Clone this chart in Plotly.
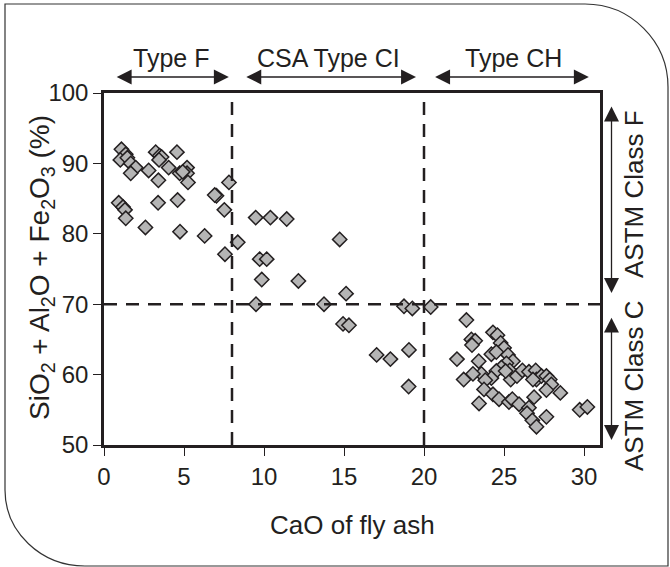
import plotly.graph_objects as go

# ---- data ----
cao = [1.09, 1.36, 1.02, 1.46, 1.67, 1.98, 1.67, 2.79, 3.23, 3.48, 3.6, 3.44, 4.56, 4.04, 3.4,
       4.73, 5.19, 5.19, 5.25, 4.92, 7.81, 7.03, 6.92, 7.52, 0.92, 1.19, 1.31, 1.36, 3.38, 4.6,
       2.59, 4.75, 6.29, 8.36, 7.56,
       9.48, 10.4, 11.42, 14.73, 9.73, 10.17, 9.86, 12.15, 15.13, 9.5, 13.75, 18.75, 19.27, 20.42,
       14.94, 15.31, 17.04, 17.9, 19.06, 19.04,
       22.65, 22.96, 23.2, 23.0, 24.31, 24.59, 24.79, 25.0, 24.21, 24.52, 25.25, 22.06, 23.42, 25.56,
       25.15, 24.84, 25.36, 24.52, 24.21, 23.59, 23.06, 22.48, 23.83, 25.42, 25.81, 26.15, 26.56,
       26.98, 27.03, 27.34, 27.65, 27.86, 27.96, 27.65, 28.52, 26.81, 23.75, 24.31, 24.69, 25.31,
       25.52, 25.94, 23.44, 26.88, 26.56, 26.44, 26.77, 27.03, 27.65, 29.73, 30.21, 25.1]
oxides = [92.0, 91.3, 90.5, 90.8, 90.0, 89.4, 88.6, 89.0, 91.6, 91.1, 90.9, 90.5, 91.6, 89.4, 87.6,
          88.6, 89.4, 88.6, 87.3, 88.8, 87.3, 85.4, 85.5, 83.4, 84.4, 83.8, 83.4, 82.2, 84.4, 84.8,
          80.9, 80.3, 79.7, 78.8, 77.1,
          82.3, 82.3, 82.1, 79.2, 76.4, 76.4, 73.5, 73.3, 71.5, 70.0, 70.0, 69.7, 69.4, 69.6,
          67.2, 67.0, 62.8, 62.2, 63.5, 58.3,
          67.75, 65.0, 64.8, 64.2, 66.0, 65.6, 64.5, 63.8, 62.9, 63.2, 62.8, 62.2, 61.9, 61.9,
          61.6, 61.0, 60.6, 60.5, 59.5, 60.1, 60.1, 59.3, 59.2, 59.3, 59.8, 60.6, 60.4,
          60.6, 59.3, 59.8, 59.8, 59.3, 58.6, 57.8, 57.4, 59.3, 57.9, 57.2, 56.5, 56.1,
          56.5, 55.8, 55.9, 56.8, 55.3, 54.5, 53.5, 52.6, 54.0, 55.0, 55.4, 60.5]

x_ticks = [0, 5, 10, 15, 20, 25, 30]
y_ticks = [50, 60, 70, 80, 90, 100]
type_bounds = [8, 20]
class_bound = 70

top_labels = ["Type F", "CSA Type CI", "Type CH"]
top_label_cao = [4.2, 14.05, 25.6]            # label centres, CaO units
top_arrows = [(0.7, 7.8), (8.8, 19.5), (20.6, 30.3)]   # CaO spans
side_labels = ["ASTM Class F", "ASTM Class C"]
side_arrows = [(98.3, 71.6), (68.3, 50.7)]    # % spans

INK = "#231f20"
FONT = "Liberation Sans, Arial, sans-serif"

XR = [0, 31]
YR = [50, 100]
L, R, T, B = 104, 600, 93, 445


def xpix(v):
    return L + (v - XR[0]) / (XR[1] - XR[0]) * (R - L)


def ypix(v):
    return B - (v - YR[0]) / (YR[1] - YR[0]) * (B - T)


def px(xp):
    return (xp - L) / (R - L)


def py(yp):
    return (B - yp) / (B - T)


fig = go.Figure()
fig.add_trace(go.Scatter(
    x=cao, y=oxides, mode="markers",
    marker=dict(symbol="diamond", size=11, color="#b5b5b5",
                line=dict(color=INK, width=1.5)),
    showlegend=False, cliponaxis=False))

shapes = []
for xb in type_bounds:
    shapes.append(dict(type="line", xref="x", yref="y", x0=xb, x1=xb, y0=50, y1=100,
                       line=dict(color=INK, width=2.5, dash="13px,9px")))
shapes.append(dict(type="line", xref="x", yref="y", x0=0, x1=31, y0=class_bound, y1=class_bound,
                   line=dict(color=INK, width=2.5, dash="13px,9px")))

# outer rounded frame
k = 0.552
path = (f"M {px(5)},{py(4)} L {px(585)},{py(4)} "
        f"C {px(585 + 83*k)},{py(4)} {px(668)},{py(87 - 83*k)} {px(668)},{py(87)} "
        f"L {px(668)},{py(566)} L {px(85)},{py(566)} "
        f"C {px(85 - 80*k)},{py(566)} {px(5)},{py(490 + 76*k)} {px(5)},{py(490)} Z")
shapes.append(dict(type="path", xref="paper", yref="paper", path=path,
                   line=dict(color="#333333", width=1.2), layer="below"))

annotations = []
ARROW_Y = 77
for lab, lx in zip(top_labels, top_label_cao):
    annotations.append(dict(x=px(xpix(lx)), y=py(58), xref="paper", yref="paper", text=lab,
                            showarrow=False, xanchor="center", yanchor="middle",
                            font=dict(family=FONT, size=25, color=INK)))
for (a, b) in top_arrows:
    annotations.append(dict(x=px(xpix(b)), y=py(ARROW_Y), xref="paper", yref="paper",
                            ax=xpix(a) - xpix(b), ay=0, axref="pixel", ayref="pixel",
                            text="", showarrow=True, arrowhead=2, arrowside="end+start",
                            arrowsize=2.3, arrowwidth=1.3, arrowcolor=INK, standoff=0, startstandoff=0))
SIDE_X = 611.5
for (a, b) in side_arrows:
    annotations.append(dict(x=px(SIDE_X), y=py(ypix(b)), xref="paper", yref="paper",
                            ax=0, ay=ypix(a) - ypix(b), axref="pixel", ayref="pixel",
                            text="", showarrow=True, arrowhead=2, arrowside="end+start",
                            arrowsize=2.3, arrowwidth=1.3, arrowcolor=INK, standoff=0, startstandoff=0))
annotations.append(dict(x=px(634), y=py(194), xref="paper", yref="paper", text=side_labels[0],
                        textangle=-90, showarrow=False, xanchor="center", yanchor="middle",
                        font=dict(family=FONT, size=26, color=INK)))
annotations.append(dict(x=px(634), y=py(386), xref="paper", yref="paper", text=side_labels[1],
                        textangle=-90, showarrow=False, xanchor="center", yanchor="middle",
                        font=dict(family=FONT, size=26, color=INK)))
annotations.append(dict(x=px(352), y=py(525), xref="paper", yref="paper", text="CaO of fly ash",
                        showarrow=False, xanchor="center", yanchor="middle",
                        font=dict(family=FONT, size=26, color=INK)))
annotations.append(dict(x=px(41), y=py(268), xref="paper", yref="paper",
                        text="SiO<sub>2</sub> + Al<sub>2</sub>O + Fe<sub>2</sub>O<sub>3</sub> (%)",
                        textangle=-90, showarrow=False, xanchor="center", yanchor="middle",
                        font=dict(family=FONT, size=28, color=INK)))

fig.update_layout(
    width=670, height=567,
    margin=dict(l=L, r=670 - R, t=T, b=567 - B),
    paper_bgcolor="white", plot_bgcolor="white",
    shapes=shapes, annotations=annotations,
    font=dict(family=FONT, color=INK),
    xaxis=dict(range=XR, tickvals=x_ticks, ticks="outside", ticklen=8, tickwidth=1,
               tickcolor=INK, showline=True, linewidth=2.5, linecolor=INK, mirror=True,
               showgrid=False, zeroline=False, tickfont=dict(family=FONT, size=24, color=INK)),
    yaxis=dict(range=YR, tickvals=y_ticks, ticks="outside", ticklen=8, tickwidth=1,
               tickcolor=INK, showline=True, linewidth=2.5, linecolor=INK, mirror=True,
               showgrid=False, zeroline=False, tickfont=dict(family=FONT, size=24, color=INK)),
)

fig.write_html("out.html")
